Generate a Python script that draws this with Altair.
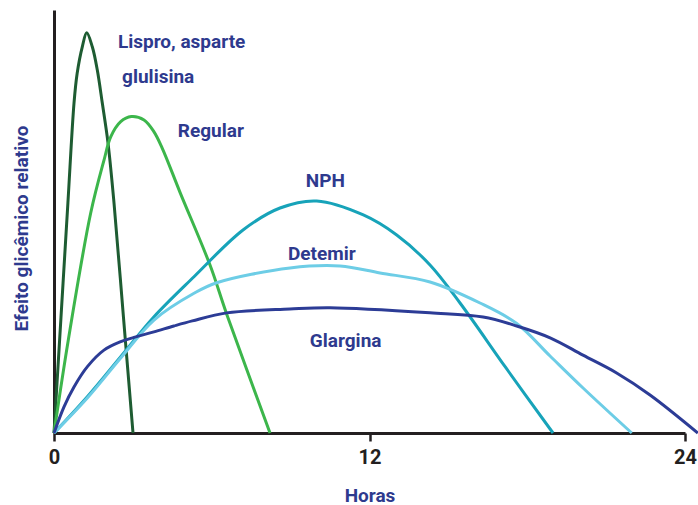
import altair as alt
import pandas as pd

# ---- data (hours, relative effect 0-100) ----
series_names = ["Lispro", "Regular", "NPH", "Detemir", "Glargina"]
series_colors = ["#1e5c32", "#3cb64b", "#17a3b9", "#6dcde6", "#2c3c96"]

lispro_h = [0, 0.266, 0.529, 0.761, 0.880, 1.076, 1.244, 1.457, 1.647, 1.837, 2.054, 2.282, 2.644, 3.005]
lispro_v = [0, 27.4, 54.4, 78.0, 85.0, 91.3, 94.6, 91.3, 85.8, 78.0, 68.6, 54.4, 27.2, 0]

regular_h = [0, 0.544, 1.396, 1.902, 2.157, 2.537, 2.941, 3.423, 3.804, 4.119, 4.793, 5.934, 6.569, 8.216]
regular_v = [0, 22.0, 52.0, 64.5, 70.0, 73.6, 74.8, 74.0, 71.2, 67.3, 56.9, 39.7, 28.1, 0]

nph_h = [0, 1.267, 2.537, 3.804, 5.325, 7.189, 8.597, 9.992, 11.765, 13.035, 14.302, 15.443, 17.193, 18.980]
nph_v = [0, 8.58, 18.04, 27.49, 36.95, 47.99, 53.19, 54.85, 51.54, 46.81, 39.72, 30.73, 15.37, 0]

detemir_h = [0, 1.267, 2.537, 3.804, 5.325, 6.189, 8.977, 10.879, 12.400, 14.302, 16.204, 17.600, 18.867, 20.122, 21.974]
detemir_v = [0, 8.27, 17.73, 26.71, 33.03, 35.53, 39.01, 39.48, 37.83, 35.70, 30.73, 25.89, 18.20, 10.64, 0]

glargina_h = [0, 0.38, 0.76, 1.27, 1.90, 2.54, 3.04, 3.80, 4.56, 5.26, 6.57, 8.97, 10.50, 14.30, 16.32, 17.60, 18.87, 20.12, 21.40, 22.67, 24.49]
glargina_v = [0, 6.2, 10.9, 15.7, 19.6, 21.6, 22.6, 23.9, 25.3, 26.5, 28.4, 29.3, 29.6, 28.4, 27.4, 25.3, 22.5, 18.4, 14.2, 9.0, 0]

label_texts = ["Lispro, asparte", "glulisina", "Regular", "NPH", "Detemir", "Glargina"]
label_h = [2.43, 2.59, 4.71, 9.58, 8.90, 9.73]
label_v = [91.0, 82.7, 70.0, 58.2, 40.9, 20.3]

x_ticks = [0, 12, 24]

# ---- build tables ----
rows = []
for name, hs, vs in zip(series_names,
                        [lispro_h, regular_h, nph_h, detemir_h, glargina_h],
                        [lispro_v, regular_v, nph_v, detemir_v, glargina_v]):
    for i, (h, v) in enumerate(zip(hs, vs)):
        rows.append({"serie": name, "h": h, "v": v, "ordem": i})
df = pd.DataFrame(rows)
labels = pd.DataFrame({"texto": label_texts, "h": label_h, "v": label_v})

FONT = "Roboto"
BLUE = "#2e3a8e"
DARK = "#231f20"

x_enc = alt.X(
    "h:Q",
    scale=alt.Scale(domain=[0, 24], nice=False, zero=False),
    axis=alt.Axis(
        values=x_ticks, title="Horas", grid=False,
        domainColor=DARK, domainWidth=3,
        tickColor=DARK, tickWidth=2.5, tickSize=8,
        labelFont=FONT, labelFontSize=20, labelFontWeight="bold",
        labelColor=DARK, labelPadding=6, labelFlush=False,
        titleFont=FONT, titleFontSize=19, titleFontWeight="bold",
        titleColor=BLUE, titleY=68, titleBaseline="alphabetic",
    ),
)
y_enc = alt.Y(
    "v:Q",
    scale=alt.Scale(domain=[0, 100], nice=False),
    axis=alt.Axis(
        values=[], title="Efeito glicêmico relativo", grid=False,
        domainColor=DARK, domainWidth=3, ticks=False, labels=False,
        titleFont=FONT, titleFontSize=19, titleFontWeight="bold",
        titleColor=BLUE, titleX=-27, titleY=218, titleAlign="center",
        titleBaseline="alphabetic",
    ),
)

lines = alt.Chart(df).mark_line(strokeWidth=3, interpolate="catmull-rom", clip=False).encode(
    x=x_enc,
    y=y_enc,
    color=alt.Color("serie:N", scale=alt.Scale(domain=series_names, range=series_colors), legend=None),
    order="ordem:Q",
    detail="serie:N",
)

texts = alt.Chart(labels).mark_text(
    font=FONT, fontSize=19, fontWeight="bold", color=BLUE,
    align="left", baseline="alphabetic",
).encode(
    x=alt.X("h:Q"),
    y=alt.Y("v:Q"),
    text="texto:N",
)

chart = (
    alt.layer(lines, texts)
    .properties(
        width=631, height=423,
        autosize=alt.AutoSizeParams(type="none"),
        padding={"left": 54, "top": 10, "right": 13, "bottom": 72},
        background="white",
    )
    .configure_view(stroke=None)
)

chart.save("out.html", embed_options={"renderer": "svg", "actions": False})
